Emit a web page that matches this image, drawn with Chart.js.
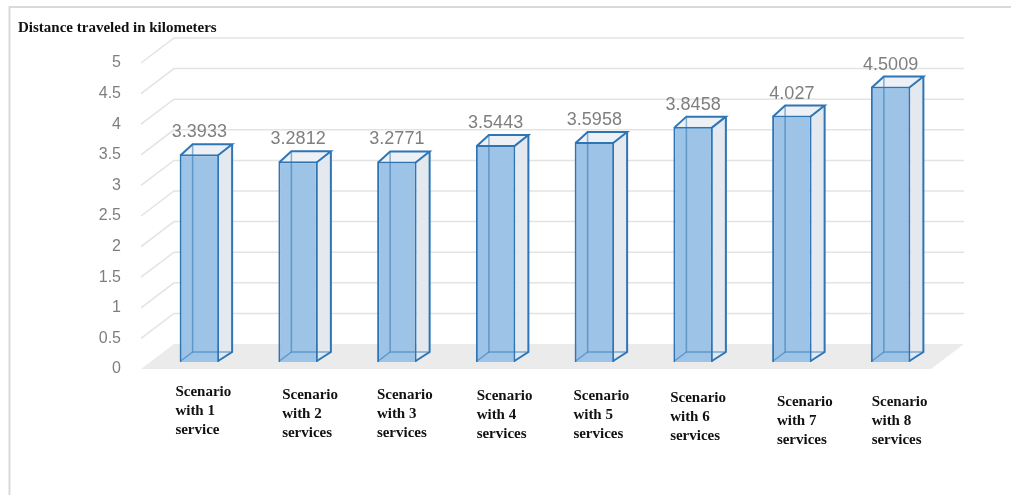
<!DOCTYPE html>
<html lang="en">
<head>
<meta charset="utf-8">
<title>Distance traveled in kilometers</title>
<script src="https://cdn.jsdelivr.net/npm/chart.js@4.4.1/dist/chart.umd.min.js"></script>
<style>
    html, body { margin: 0; padding: 0; background: #fff; }
    #wrap { width: 1011px; height: 495px; }
</style>
</head>
<body>
<div id="wrap"><canvas id="distanceChart" width="1011" height="495"></canvas></div>
<script>
// ---------- Data ----------
const scenarios = [
    ["Scenario", "with 1", "service"],
    ["Scenario", "with 2", "services"],
    ["Scenario", "with 3", "services"],
    ["Scenario", "with 4", "services"],
    ["Scenario", "with 5", "services"],
    ["Scenario", "with 6", "services"],
    ["Scenario", "with 7", "services"],
    ["Scenario", "with 8", "services"]
];
const distanceKm = [3.3933, 3.2812, 3.2771, 3.5443, 3.5958, 3.8458, 4.027, 4.5009];
const yMin = 0, yMax = 5, yStep = 0.5;
const chartTitle = "Distance traveled in kilometers";

// ---------- Look ----------
const barDepth = { dx: 13, dy: -10 };   // front face -> back face of a bar
const barInset = { dx: 9, dy: 7 };      // floor front edge -> bar front face
const wallDepth = { dx: 33, dy: -25 };  // floor front edge -> back wall
// nudges for the category captions [dx from bar centre, dy below floor]
const labelShift = [[-24, 30], [-16, 33], [-20, 33], [-19, 34], [-21, 34], [-23, 36], [-15, 40], [-19, 40]];

const blue = '#2e75b6';
const faceBlue = '#9dc3e6';
const serifBold = 'bold 15px "Liberation Serif", "Times New Roman", serif';

document.addEventListener("DOMContentLoaded", () => {
    const $ = (id) => document.getElementById(id);

    const poly = (ctx, pts) => {
        ctx.beginPath();
        ctx.moveTo(pts[0][0], pts[0][1]);
        pts.slice(1).forEach(p => ctx.lineTo(p[0], p[1]));
        ctx.closePath();
    };
    const line = (ctx, pts) => {
        ctx.beginPath();
        ctx.moveTo(pts[0][0], pts[0][1]);
        pts.slice(1).forEach(p => ctx.lineTo(p[0], p[1]));
        ctx.stroke();
    };
    const barBox = (bar) => {
        const { x, y, base, width } = bar.getProps(['x', 'y', 'base', 'width'], true);
        return { l: x - width / 2, r: x + width / 2, t: y, b: base, cx: x };
    };

    // ---------- 3D frame: floor, back wall grid, bar sides ----------
    const box3d = {
        id: 'box3d',
        beforeDraw(chart) {
            const { ctx } = chart;
            ctx.save();
            ctx.strokeStyle = '#d9d9d9';
            ctx.lineWidth = 2;
            line(ctx, [[9.5, 495], [9.5, 7], [1011, 7]]);
            ctx.fillStyle = '#111';
            ctx.font = serifBold;
            ctx.textAlign = 'left';
            ctx.textBaseline = 'alphabetic';
            ctx.fillText(chartTitle, 18, 32);
            ctx.restore();
        },
        beforeDatasetsDraw(chart) {
            const { ctx, chartArea: a, scales: { y } } = chart;
            const fl = a.left - barInset.dx, fr = a.right - barInset.dx;
            const front = (v) => y.getPixelForValue(v) + barInset.dy;
            ctx.save();

            // floor
            const f0 = front(0);
            ctx.fillStyle = '#ebebeb';
            poly(ctx, [[fl, f0], [fl + wallDepth.dx, f0 + wallDepth.dy], [fr + wallDepth.dx, f0 + wallDepth.dy], [fr, f0]]);
            ctx.fill();

            // gridlines run along the side wall then across the back wall
            ctx.strokeStyle = '#e3e3e3';
            ctx.lineWidth = 1.5;
            y.ticks.forEach(t => {
                if (t.value === 0) return;
                const yy = front(t.value);
                line(ctx, [[fl, yy], [fl + wallDepth.dx, yy + wallDepth.dy], [fr + wallDepth.dx, yy + wallDepth.dy]]);
            });

            // side and top faces sit behind the front face
            chart.getDatasetMeta(0).data.forEach(bar => {
                const { l, r, t, b } = barBox(bar);
                const dx = barDepth.dx, dy = barDepth.dy;
                ctx.fillStyle = '#e3e9ef';
                poly(ctx, [[r, t], [r + dx, t + dy], [r + dx, b + dy], [r, b]]);
                ctx.fill();
                ctx.fillStyle = '#edf1f6';
                poly(ctx, [[l, t], [l + dx, t + dy], [r + dx, t + dy], [r, t]]);
                ctx.fill();
            });
            ctx.restore();
        },
        afterDatasetsDraw(chart) {
            const { ctx, chartArea: a } = chart;
            const dx = barDepth.dx, dy = barDepth.dy;
            ctx.save();
            chart.getDatasetMeta(0).data.forEach((bar, i) => {
                const { l, r, t, b, cx } = barBox(bar);

                // hidden edges seen through the glassy front
                ctx.strokeStyle = 'rgba(46,117,182,0.55)';
                ctx.lineWidth = 1.5;
                line(ctx, [[l + dx, t + dy], [l + dx, b + dy], [r + dx, b + dy]]);
                line(ctx, [[l + 1, b - 1], [l + dx, b + dy]]);

                // outer edges
                ctx.strokeStyle = blue;
                ctx.lineWidth = 2;
                line(ctx, [[l + 1, t + 1], [l + dx, t + dy], [r + dx, t + dy], [r - 1, t + 1]]);
                line(ctx, [[r + dx, t + dy], [r + dx, b + dy], [r - 1, b - 1]]);

                // value label
                ctx.fillStyle = '#7f7f7f';
                ctx.font = '18px "Liberation Sans", Arial, sans-serif';
                ctx.textAlign = 'center';
                ctx.textBaseline = 'middle';
                ctx.fillText(String(distanceKm[i]), cx, t - 22);

                // category caption
                const [sx, sy] = labelShift[i];
                ctx.fillStyle = '#111';
                ctx.font = serifBold;
                ctx.textAlign = 'left';
                scenarios[i].forEach((txt, k) => ctx.fillText(txt, cx + sx, a.bottom + sy + k * 19));
            });
            ctx.restore();
        }
    };

    // ---------- Chart ----------
    new Chart($('distanceChart'), {
        type: 'bar',
        data: {
            labels: scenarios,
            datasets: [{
                data: distanceKm,
                backgroundColor: faceBlue,
                borderColor: blue,
                borderWidth: 2,
                barPercentage: 0.4,
                categoryPercentage: 1
            }]
        },
        options: {
            responsive: false,
            devicePixelRatio: 1,
            animation: false,
            layout: { padding: { left: 90, right: 71, top: 56, bottom: 133 } },
            plugins: { legend: { display: false }, tooltip: { enabled: false }, title: { display: false } },
            scales: {
                x: { display: false, offset: true },
                y: {
                    min: yMin,
                    max: yMax,
                    grid: { display: false, drawTicks: false },
                    border: { display: false },
                    afterFit: (scale) => { scale.width = 60; },
                    ticks: {
                        stepSize: yStep,
                        padding: 29,
                        labelOffset: barInset.dy,
                        color: '#7f7f7f',
                        font: { family: '"Liberation Sans", Arial, sans-serif', size: 16 },
                        callback: (v) => String(Number(v))
                    }
                }
            }
        },
        plugins: [box3d]
    });
});
</script>
</body>
</html>
